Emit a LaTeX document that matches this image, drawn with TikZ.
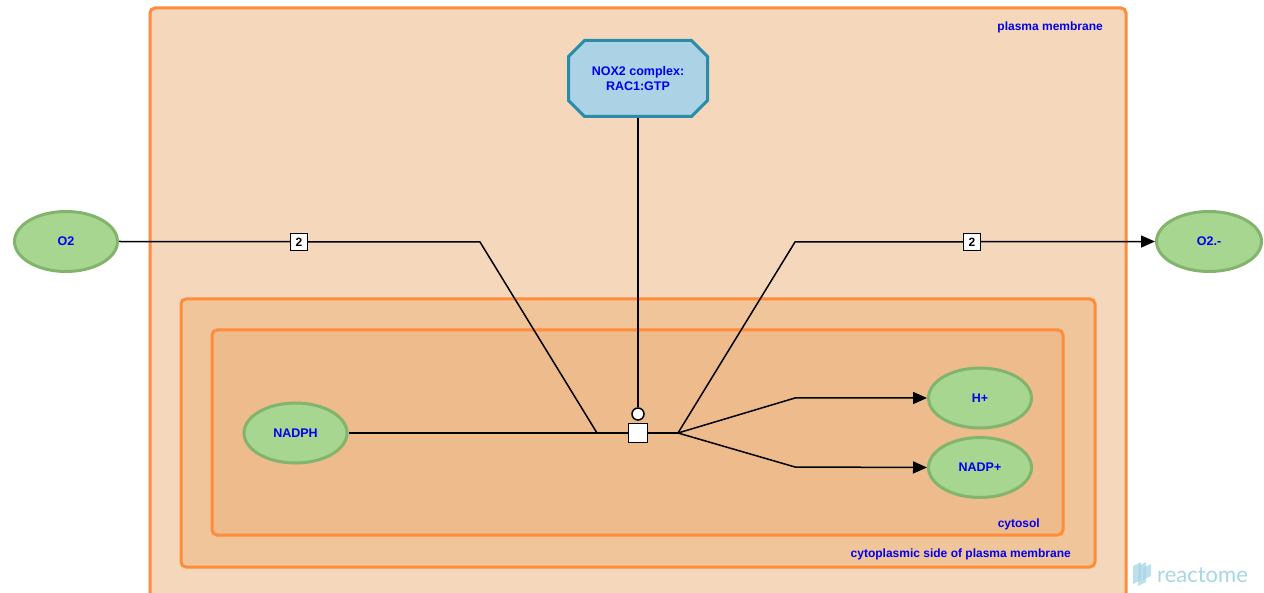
\documentclass[tikz,border=0pt]{standalone}
\usepackage{fontspec}
\setmainfont{Liberation Sans}
\newfontfamily\logofont{Lato}
\usetikzlibrary{arrows.meta,shapes.geometric,shapes.misc}
\definecolor{pmfill}{HTML}{F5D8BB}
\definecolor{cpfill}{HTML}{F1C59A}
\definecolor{cyfill}{HTML}{EDBB8C}
\definecolor{compborder}{HTML}{FF8C3A}
\definecolor{entfill}{HTML}{A6D690}
\definecolor{entborder}{HTML}{82B46E}
\definecolor{cxfill}{HTML}{ABD2E5}
\definecolor{cxborder}{HTML}{2A8CA8}
\definecolor{lbl}{HTML}{0000F0}
\definecolor{logoc}{HTML}{A8D6E4}
\tikzset{
  comp/.style={draw=compborder, line width=3pt, rounded corners=5pt},
  complbl/.style={text=lbl, font=\fontsize{12}{14}\selectfont\bfseries, anchor=east, inner sep=0pt},
  ent/.style={ellipse, draw=entborder, fill=entfill, line width=3pt, minimum width=103pt, minimum height=60pt, text=lbl, font=\fontsize{12.5}{14}\selectfont\bfseries, inner sep=0pt},
  cplx/.style={chamfered rectangle, chamfered rectangle xsep=8pt, chamfered rectangle ysep=8pt, draw=cxborder, fill=cxfill, line width=3pt, minimum width=139pt, minimum height=76pt, text=lbl, font=\fontsize{12.5}{15}\selectfont\bfseries, align=center, inner sep=0pt},
  conn/.style={line width=1.5pt, draw=black},
  prod/.style={conn, -{Triangle[length=14pt,width=12pt]}},
  stoich/.style={draw=black, fill=white, line width=1.5pt, minimum size=17pt, inner sep=0pt, font=\fontsize{12}{13}\selectfont\bfseries},
  rxn/.style={draw=black, fill=white, line width=1.5pt, minimum size=19pt, inner sep=0pt},
  catc/.style={circle, draw=black, fill=white, line width=1.5pt, minimum size=12pt, inner sep=0pt},
}
\begin{document}
\begin{tikzpicture}[x=1pt,y=-1pt]
\useasboundingbox (0,0) rectangle (1264,593);
\begin{scope}
\clip (0,0) rectangle (1264,593);
\fill[white] (0,0) rectangle (1264,593);
\draw[comp, fill=pmfill] (150,8) rectangle (1126,620);
\end{scope}
\draw[comp, fill=cpfill] (181,299) rectangle (1095,567);
\draw[comp, fill=cyfill] (212,330) rectangle (1063,535);
\node[complbl] (lpm) at (1103,27) {plasma membrane};
\node[complbl] (lcp) at (1071,554) {cytoplasmic side of plasma membrane};
\node[complbl] (lcy) at (1040,524) {cytosol};

% entities
\node[ent] (o2) at (66,241.5) {O2};
\node[ent, minimum width=105pt] (o2m) at (1209,241.5) {O2.-};
\node[ent] (nadph) at (295.5,433) {NADPH};
\node[ent] (hplus) at (980,398) {H+};
\node[ent] (nadpp) at (980,467.5) {NADP+};
\node[cplx] (nox) at (638,78.5) {NOX2 complex:\\RAC1:GTP};

% reaction
\node[rxn] (r) at (638,433) {};
\node[catc] (cat) at (638,414) {};
\coordinate (jin) at (597,433);
\coordinate (jout) at (678,433);
\coordinate (o2bend) at (480,242);
\coordinate (o2mbend) at (795,242);
\coordinate (hbend) at (795,398);
\coordinate (nbend) at (795,467);

\draw[conn] (o2.east) -- (o2bend) -- (jin);
\draw[conn] (nadph.east) -- (jin) -- (r.west);
\draw[conn] (nox.south) -- (cat.north);
\draw[conn] (r.east) -- (jout);
\draw[prod] (jout) -- (o2mbend) -- (o2m.west);
\draw[prod] (jout) -- (hbend) -- (hplus.west);
\draw[prod] (jout) -- (nbend) -- (nadpp.west);
\node[stoich] (s1) at (299,242) {2};
\node[stoich] (s2) at (972,242) {2};

% logo
\begin{scope}[fill=logoc, opacity=0.75]
\fill (1133,566) -- (1141,562) -- (1141,580) -- (1133,584) -- cycle;
\fill (1138,566) -- (1146,562) -- (1146,582) -- (1138,586) -- cycle;
\fill (1143,568) -- (1151,564) -- (1151,576) -- (1143,580) -- cycle;
\end{scope}
\node[text=logoc, font=\logofont\fontsize{22}{23}\selectfont, anchor=west, inner sep=0pt] (logo) at (1157,575) {reactome};
\end{tikzpicture}
\end{document}
